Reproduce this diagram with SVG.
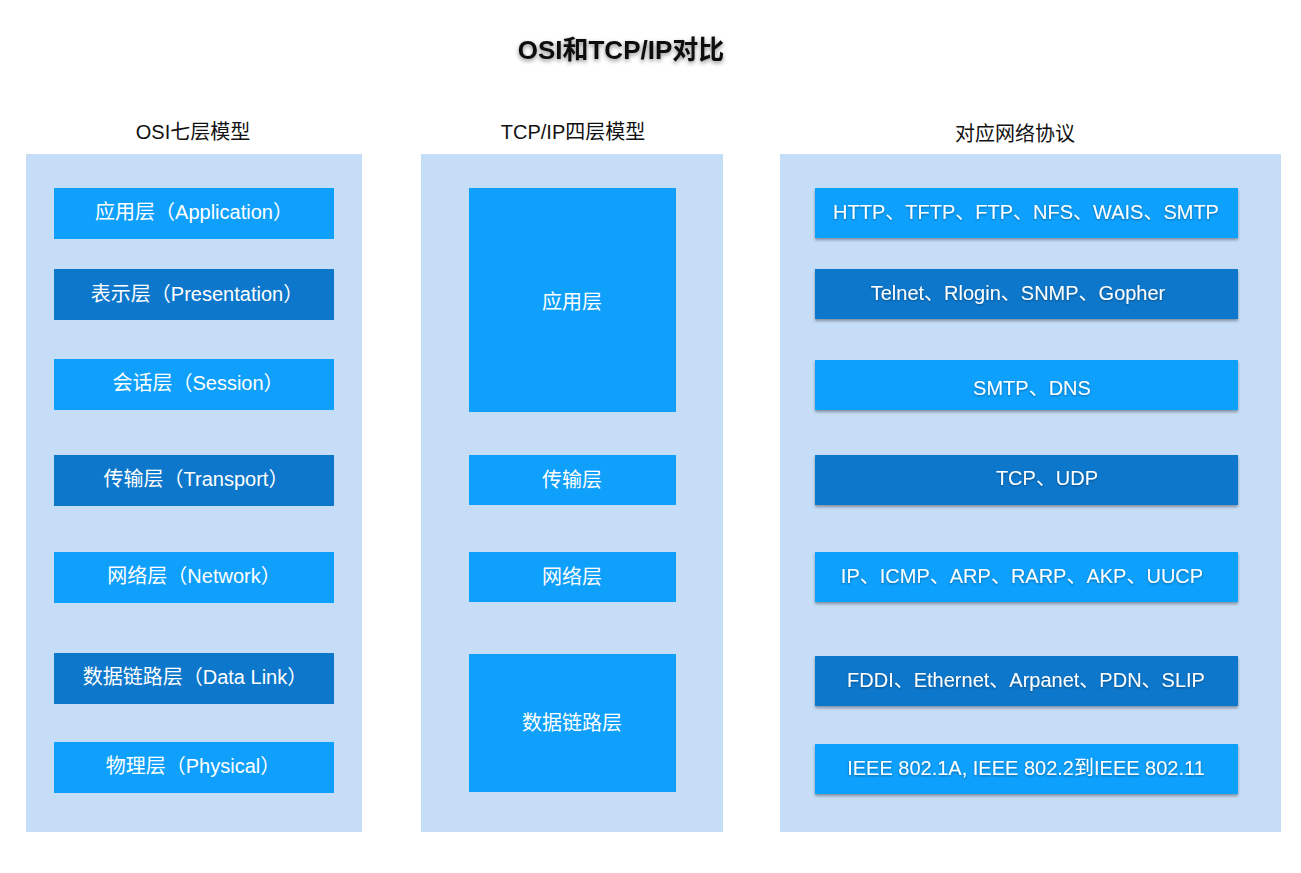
<svg xmlns="http://www.w3.org/2000/svg" width="1301" height="873" viewBox="0 0 1301 873">
<defs>
<filter id="ts" x="-10%" y="-30%" width="120%" height="170%">
<feDropShadow dx="0" dy="2" stdDeviation="2" flood-color="#000" flood-opacity="0.45"/>
</filter>
<filter id="bs" x="-5%" y="-20%" width="110%" height="150%">
<feDropShadow dx="0" dy="2" stdDeviation="1.5" flood-color="#000" flood-opacity="0.35"/>
</filter>
<filter id="tts" x="-10%" y="-30%" width="120%" height="170%">
<feDropShadow dx="0" dy="1" stdDeviation="1" flood-color="#000" flood-opacity="0.35"/>
</filter>
</defs>
<style>
text{font-family:"Liberation Sans","Noto Sans CJK SC",sans-serif;}
.panel{fill:#C6DDF8;}
.b{fill:#0FA0FC;}
.d{fill:#0C77CB;}
.t{fill:#FFFFFF;font-size:20px;text-anchor:middle;dominant-baseline:central;}
.h{fill:#111111;font-size:20px;text-anchor:middle;}
.title{fill:#111111;font-size:26px;font-weight:bold;text-anchor:middle;}
</style>
<rect width="1301" height="873" fill="#FFFFFF"/>
<text class="title" x="621" y="59" filter="url(#ts)">OSI和TCP/IP对比</text>

<g id="osi">
<text class="h" x="193" y="139">OSI七层模型</text>
<rect class="panel" x="26" y="154" width="336" height="678"/>
<g id="osi-app"><rect class="b" x="54" y="188" width="280" height="51"/><text class="t" x="194" y="212">应用层（Application）</text></g>
<g id="osi-pres"><rect class="d" x="54" y="269" width="280" height="51"/><text class="t" x="197" y="294">表示层（Presentation）</text></g>
<g id="osi-sess"><rect class="b" x="54" y="359" width="280" height="51"/><text class="t" x="198" y="383">会话层（Session）</text></g>
<g id="osi-trans"><rect class="d" x="54" y="455" width="280" height="51"/><text class="t" x="196" y="479">传输层（Transport）</text></g>
<g id="osi-net"><rect class="b" x="54" y="552" width="280" height="51"/><text class="t" x="194" y="576">网络层（Network）</text></g>
<g id="osi-link"><rect class="d" x="54" y="653" width="280" height="51"/><text class="t" x="195" y="677">数据链路层（Data Link）</text></g>
<g id="osi-phys"><rect class="b" x="54" y="742" width="280" height="51"/><text class="t" x="193" y="766">物理层（Physical）</text></g>
</g>

<g id="tcpip">
<text class="h" x="573" y="139">TCP/IP四层模型</text>
<rect class="panel" x="421" y="154" width="302" height="678"/>
<g id="tcp-app"><rect class="b" x="469" y="188" width="207" height="224"/><text class="t" x="572" y="302">应用层</text></g>
<g id="tcp-trans"><rect class="b" x="469" y="455" width="207" height="50"/><text class="t" x="572" y="480">传输层</text></g>
<g id="tcp-net"><rect class="b" x="469" y="552" width="207" height="50"/><text class="t" x="572" y="577">网络层</text></g>
<g id="tcp-link"><rect class="b" x="469" y="654" width="207" height="138"/><text class="t" x="572" y="723">数据链路层</text></g>
</g>

<g id="proto">
<text class="h" x="1015" y="141">对应网络协议</text>
<rect class="panel" x="780" y="154" width="501" height="678"/>
<g id="p1"><rect class="b" x="815" y="188" width="423" height="50" filter="url(#bs)"/><text class="t" x="1026" y="212" filter="url(#tts)">HTTP、TFTP、FTP、NFS、WAIS、SMTP</text></g>
<g id="p2"><rect class="d" x="815" y="269" width="423" height="50" filter="url(#bs)"/><text class="t" x="1018" y="293" filter="url(#tts)">Telnet、Rlogin、SNMP、Gopher</text></g>
<g id="p3"><rect class="b" x="815" y="360" width="423" height="50" filter="url(#bs)"/><text class="t" x="1032" y="388" filter="url(#tts)">SMTP、DNS</text></g>
<g id="p4"><rect class="d" x="815" y="455" width="423" height="50" filter="url(#bs)"/><text class="t" x="1047" y="478" filter="url(#tts)">TCP、UDP</text></g>
<g id="p5"><rect class="b" x="815" y="552" width="423" height="50" filter="url(#bs)"/><text class="t" x="1022" y="576" filter="url(#tts)">IP、ICMP、ARP、RARP、AKP、UUCP</text></g>
<g id="p6"><rect class="d" x="815" y="656" width="423" height="50" filter="url(#bs)"/><text class="t" x="1026" y="680" filter="url(#tts)">FDDI、Ethernet、Arpanet、PDN、SLIP</text></g>
<g id="p7"><rect class="b" x="815" y="744" width="423" height="50" filter="url(#bs)"/><text class="t" x="1026" y="768" filter="url(#tts)">IEEE 802.1A, IEEE 802.2到IEEE 802.11</text></g>
</g>
<g id="connectors"/>
</svg>
